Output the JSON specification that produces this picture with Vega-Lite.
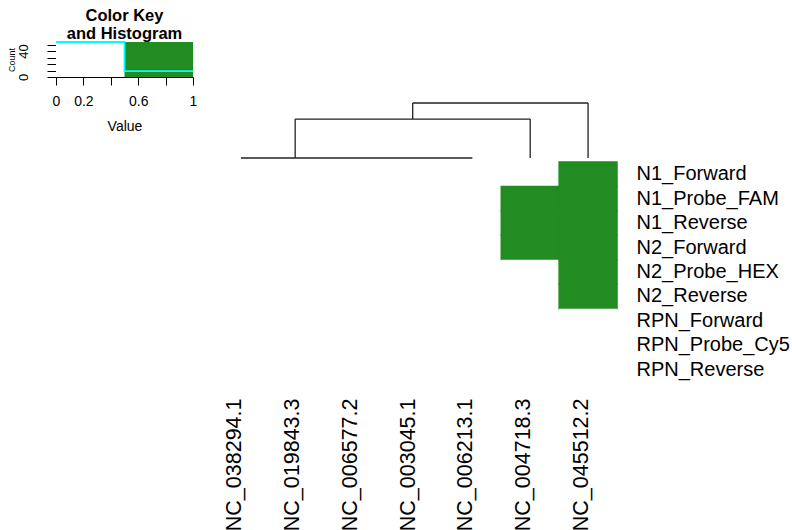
{
  "$schema": "https://vega.github.io/schema/vega-lite/v6.json",
  "padding": {"left": 7, "top": 8, "right": 0, "bottom": 0},
  "config": {
    "view": {"stroke": null},
    "font": "Liberation Sans",
    "axis": {"labelFont": "Liberation Sans", "titleFont": "Liberation Sans", "labelColor": "black", "titleColor": "black", "domainColor": "black", "tickColor": "black", "grid": false},
    "title": {"font": "Liberation Sans", "color": "black"}
  },
  "resolve": {"scale": {"fill": "independent", "stroke": "independent"}},
  "datasets": {
    "cells": [
      {"col": "NC_038294.1", "row": "N1_Forward", "value": 0},
      {"col": "NC_038294.1", "row": "N1_Probe_FAM", "value": 0},
      {"col": "NC_038294.1", "row": "N1_Reverse", "value": 0},
      {"col": "NC_038294.1", "row": "N2_Forward", "value": 0},
      {"col": "NC_038294.1", "row": "N2_Probe_HEX", "value": 0},
      {"col": "NC_038294.1", "row": "N2_Reverse", "value": 0},
      {"col": "NC_038294.1", "row": "RPN_Forward", "value": 0},
      {"col": "NC_038294.1", "row": "RPN_Probe_Cy5", "value": 0},
      {"col": "NC_038294.1", "row": "RPN_Reverse", "value": 0},
      {"col": "NC_019843.3", "row": "N1_Forward", "value": 0},
      {"col": "NC_019843.3", "row": "N1_Probe_FAM", "value": 0},
      {"col": "NC_019843.3", "row": "N1_Reverse", "value": 0},
      {"col": "NC_019843.3", "row": "N2_Forward", "value": 0},
      {"col": "NC_019843.3", "row": "N2_Probe_HEX", "value": 0},
      {"col": "NC_019843.3", "row": "N2_Reverse", "value": 0},
      {"col": "NC_019843.3", "row": "RPN_Forward", "value": 0},
      {"col": "NC_019843.3", "row": "RPN_Probe_Cy5", "value": 0},
      {"col": "NC_019843.3", "row": "RPN_Reverse", "value": 0},
      {"col": "NC_006577.2", "row": "N1_Forward", "value": 0},
      {"col": "NC_006577.2", "row": "N1_Probe_FAM", "value": 0},
      {"col": "NC_006577.2", "row": "N1_Reverse", "value": 0},
      {"col": "NC_006577.2", "row": "N2_Forward", "value": 0},
      {"col": "NC_006577.2", "row": "N2_Probe_HEX", "value": 0},
      {"col": "NC_006577.2", "row": "N2_Reverse", "value": 0},
      {"col": "NC_006577.2", "row": "RPN_Forward", "value": 0},
      {"col": "NC_006577.2", "row": "RPN_Probe_Cy5", "value": 0},
      {"col": "NC_006577.2", "row": "RPN_Reverse", "value": 0},
      {"col": "NC_003045.1", "row": "N1_Forward", "value": 0},
      {"col": "NC_003045.1", "row": "N1_Probe_FAM", "value": 0},
      {"col": "NC_003045.1", "row": "N1_Reverse", "value": 0},
      {"col": "NC_003045.1", "row": "N2_Forward", "value": 0},
      {"col": "NC_003045.1", "row": "N2_Probe_HEX", "value": 0},
      {"col": "NC_003045.1", "row": "N2_Reverse", "value": 0},
      {"col": "NC_003045.1", "row": "RPN_Forward", "value": 0},
      {"col": "NC_003045.1", "row": "RPN_Probe_Cy5", "value": 0},
      {"col": "NC_003045.1", "row": "RPN_Reverse", "value": 0},
      {"col": "NC_006213.1", "row": "N1_Forward", "value": 0},
      {"col": "NC_006213.1", "row": "N1_Probe_FAM", "value": 0},
      {"col": "NC_006213.1", "row": "N1_Reverse", "value": 0},
      {"col": "NC_006213.1", "row": "N2_Forward", "value": 0},
      {"col": "NC_006213.1", "row": "N2_Probe_HEX", "value": 0},
      {"col": "NC_006213.1", "row": "N2_Reverse", "value": 0},
      {"col": "NC_006213.1", "row": "RPN_Forward", "value": 0},
      {"col": "NC_006213.1", "row": "RPN_Probe_Cy5", "value": 0},
      {"col": "NC_006213.1", "row": "RPN_Reverse", "value": 0},
      {"col": "NC_004718.3", "row": "N1_Forward", "value": 0},
      {"col": "NC_004718.3", "row": "N1_Probe_FAM", "value": 1},
      {"col": "NC_004718.3", "row": "N1_Reverse", "value": 1},
      {"col": "NC_004718.3", "row": "N2_Forward", "value": 1},
      {"col": "NC_004718.3", "row": "N2_Probe_HEX", "value": 0},
      {"col": "NC_004718.3", "row": "N2_Reverse", "value": 0},
      {"col": "NC_004718.3", "row": "RPN_Forward", "value": 0},
      {"col": "NC_004718.3", "row": "RPN_Probe_Cy5", "value": 0},
      {"col": "NC_004718.3", "row": "RPN_Reverse", "value": 0},
      {"col": "NC_045512.2", "row": "N1_Forward", "value": 1},
      {"col": "NC_045512.2", "row": "N1_Probe_FAM", "value": 1},
      {"col": "NC_045512.2", "row": "N1_Reverse", "value": 1},
      {"col": "NC_045512.2", "row": "N2_Forward", "value": 1},
      {"col": "NC_045512.2", "row": "N2_Probe_HEX", "value": 1},
      {"col": "NC_045512.2", "row": "N2_Reverse", "value": 1},
      {"col": "NC_045512.2", "row": "RPN_Forward", "value": 0},
      {"col": "NC_045512.2", "row": "RPN_Probe_Cy5", "value": 0},
      {"col": "NC_045512.2", "row": "RPN_Reverse", "value": 0}
    ],
    "dendro": [
      {"x": 1, "x2": 5, "h": 0, "h2": 0},
      {"x": 1.9375, "x2": 1.9375, "h": 0, "h2": 1.732},
      {"x": 1.9375, "x2": 6, "h": 1.732, "h2": 1.732},
      {"x": 6, "x2": 6, "h": 1.732, "h2": 0},
      {"x": 3.96875, "x2": 3.96875, "h": 1.732, "h2": 2.449},
      {"x": 3.96875, "x2": 7, "h": 2.449, "h2": 2.449},
      {"x": 7, "x2": 7, "h": 2.449, "h2": 0}
    ],
    "keybins": [
      {"lo": 0, "hi": 0.5, "level": 0},
      {"lo": 0.5, "hi": 1, "level": 1}
    ],
    "hist": [
      {"v": 0, "count": 54},
      {"v": 0.5, "count": 9},
      {"v": 1, "count": 9}
    ]
  },
  "columns": 2,
  "align": "each",
  "bounds": "full",
  "spacing": {"row": 2, "column": 14},
  "concat": [
    {
      "width": 137,
      "height": 35,
      "title": {"text": ["Color Key", "and Histogram"], "fontSize": 16.5, "fontWeight": "bold", "lineHeight": 17.5, "offset": -4, "anchor": "middle"},
      "layer": [
        {
          "data": {"name": "keybins"},
          "mark": {"type": "rect"},
          "encoding": {
            "x": {"field": "lo", "type": "quantitative", "scale": {"domain": [0, 1], "nice": false},
              "axis": {"title": "Value", "values": [0, 0.2, 0.4, 0.6, 0.8, 1], "format": "~g", "labelExpr": "(datum.value == 0.4 || datum.value == 0.8) ? '' : datum.label", "labelOverlap": false, "labelFontSize": 14, "tickSize": 8, "labelPadding": 9, "titleFontSize": 14, "titleFontWeight": "normal", "titlePadding": 11, "labelFlush": false}},
            "x2": {"field": "hi"},
            "y": {"datum": 0, "type": "quantitative", "scale": {"domain": [0, 54], "nice": false},
              "axis": {"title": "Count", "values": [0, 10, 20, 30, 40, 50], "labelExpr": "(datum.value == 0 || datum.value == 40) ? datum.label : ''", "labelOverlap": false, "labelAngle": -90, "labelAlign": "center", "labelBaseline": "bottom", "labelFontSize": 13, "tickSize": 9, "labelPadding": 17, "titleFontSize": 9, "titleFontWeight": "normal", "titlePadding": 1, "labelFlush": false}},
            "y2": {"datum": 54},
            "fill": {"field": "level", "type": "ordinal", "scale": {"domain": [0, 1], "range": ["#FFFFFF", "#228B22"]}, "legend": null}
          }
        },
        {
          "data": {"name": "hist"},
          "mark": {"type": "line", "interpolate": "step-after", "color": "#00FFFF", "strokeWidth": 1.8},
          "encoding": {
            "x": {"field": "v", "type": "quantitative",
              "axis": {"title": "Value", "values": [0, 0.2, 0.4, 0.6, 0.8, 1], "format": "~g", "labelExpr": "(datum.value == 0.4 || datum.value == 0.8) ? '' : datum.label", "labelOverlap": false, "labelFontSize": 14, "tickSize": 8, "labelPadding": 9, "titleFontSize": 14, "titleFontWeight": "normal", "titlePadding": 11, "labelFlush": false}},
            "y": {"field": "count", "type": "quantitative",
              "axis": {"title": "Count", "values": [0, 10, 20, 30, 40, 50], "labelExpr": "(datum.value == 0 || datum.value == 40) ? datum.label : ''", "labelOverlap": false, "labelAngle": -90, "labelAlign": "center", "labelBaseline": "bottom", "labelFontSize": 13, "tickSize": 9, "labelPadding": 17, "titleFontSize": 9, "titleFontWeight": "normal", "titlePadding": 1, "labelFlush": false}}
          }
        }
      ]
    },
    {
      "width": 405,
      "height": 116,
      "data": {"name": "dendro"},
      "mark": {"type": "rule", "color": "#222222", "strokeWidth": 1.3},
      "encoding": {
        "x": {"field": "x", "type": "quantitative", "scale": {"domain": [0.5, 7.5], "nice": false, "zero": false}, "axis": null},
        "x2": {"field": "x2"},
        "y": {"field": "h", "type": "quantitative", "scale": {"domain": [0, 5.165], "nice": false}, "axis": null},
        "y2": {"field": "h2"}
      }
    },
    {
      "width": 1,
      "height": 1,
      "data": {"values": []},
      "mark": {"type": "point", "opacity": 0},
      "encoding": {}
    },
    {
      "width": 405,
      "height": 220,
      "data": {"name": "cells"},
      "mark": {"type": "rect", "strokeWidth": 1.5},
      "encoding": {
        "x": {"field": "col", "type": "ordinal", "sort": ["NC_038294.1", "NC_019843.3", "NC_006577.2", "NC_003045.1", "NC_006213.1", "NC_004718.3", "NC_045512.2"],
          "scale": {"paddingInner": 0, "paddingOuter": 0},
          "axis": {"title": null, "orient": "bottom", "labelAngle": -90, "labelAlign": "right", "labelBaseline": "alphabetic", "labelFontSize": 21.5, "labelPadding": 16, "ticks": false, "domain": false, "labelLimit": 300}},
        "y": {"field": "row", "type": "ordinal", "sort": ["N1_Forward", "N1_Probe_FAM", "N1_Reverse", "N2_Forward", "N2_Probe_HEX", "N2_Reverse", "RPN_Forward", "RPN_Probe_Cy5", "RPN_Reverse"],
          "scale": {"paddingInner": 0, "paddingOuter": 0},
          "axis": {"title": null, "orient": "right", "labelAlign": "left", "labelBaseline": "middle", "labelFontSize": 20, "labelPadding": 19, "ticks": false, "domain": false, "labelLimit": 300}},
        "fill": {"field": "value", "type": "ordinal", "scale": {"domain": [0, 1], "range": ["#FFFFFF", "#228B22"]}, "legend": null},
        "stroke": {"field": "value", "type": "ordinal", "scale": {"domain": [0, 1], "range": ["transparent", "#228B22"]}, "legend": null}
      }
    }
  ]
}
